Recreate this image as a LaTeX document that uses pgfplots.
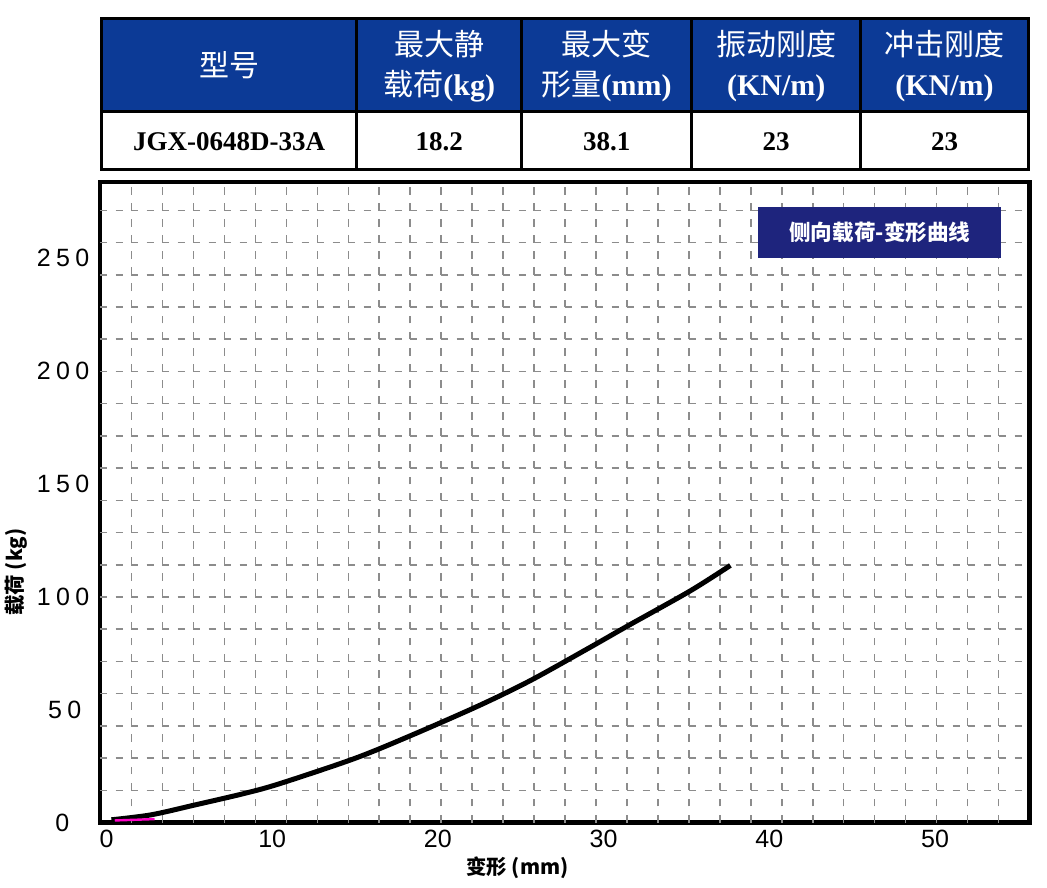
\documentclass[border=0pt]{standalone}
\usepackage{fontspec}
\setmainfont{Liberation Serif}
\newfontfamily\cjk{Noto Sans CJK SC}
\newfontfamily\arial{Liberation Sans}
\usepackage{pgfplots}
\pgfplotsset{compat=1.18}
\definecolor{hdrblue}{RGB}{12,58,150}
\definecolor{navy}{RGB}{30,36,125}
\definecolor{gridgray}{RGB}{140,140,140}
\definecolor{pinkline}{RGB}{255,0,200}
\newcommand\hdrfont{\fontsize{15}{20}\selectfont}
\newcommand\lk{\kern2.7pt}
\begin{document}
\begin{tikzpicture}
\path[use as bounding box] (0,0) rectangle (523.5pt,443.5pt);
\begin{scope}[yshift=443.5pt, x=0.5pt, y=-0.5pt]
  \fill[hdrblue] (101.7,18.3) rectangle (1028.3,111.7);
  \fill[white] (101.7,111.7) rectangle (1028.3,169.5);
  \draw[line width=1.5pt] (101.7,18.3) rectangle (1028.3,169.5);
  \draw[line width=1.5pt] (101.7,111.7) -- (1028.3,111.7);
  \foreach \X in {356.7,521.7,691.7,860.7} \draw[line width=1.5pt] (\X,18.3) -- (\X,169.5);
  \node[text=white, font=\hdrfont\cjk] at (229.2,65) {型号};
  \node[text=white, font=\hdrfont, align=center] at (439.2,66) {{\cjk 最大静}\\{\cjk 载荷}\textbf{(kg)}};
  \node[text=white, font=\hdrfont, align=center] at (606.7,66) {{\cjk 最大变}\\{\cjk 形量}\textbf{(mm)}};
  \node[text=white, font=\hdrfont, align=center] at (776.2,66) {{\cjk 振动刚度}\\\textbf{(KN/m)}};
  \node[text=white, font=\hdrfont, align=center] at (944.5,66) {{\cjk 冲击刚度}\\\textbf{(KN/m)}};
  \node[font=\bfseries\fontsize{13.5}{13.5}\selectfont] at (229.2,142) {JGX-0648D-33A};
  \node[font=\bfseries\fontsize{13.5}{13.5}\selectfont] at (439.2,142) {18.2};
  \node[font=\bfseries\fontsize{13.5}{13.5}\selectfont] at (606.7,142) {38.1};
  \node[font=\bfseries\fontsize{13.5}{13.5}\selectfont] at (776.2,142) {23};
  \node[font=\bfseries\fontsize{13.5}{13.5}\selectfont] at (944.5,142) {23};
\end{scope}
\begin{axis}[
  at={(50pt,32.25pt)}, anchor=south west,
  scale only axis, width=464.75pt, height=320.25pt,
  xmin=-0.39, xmax=55.70, ymin=0, ymax=283.5,
  axis line style={line width=2.4pt, black},
  xtick={0,10,20,30,40,50},
  xticklabels={0,10,20,30,40,50},
  ytick={0,50,100,150,200,250},
  yticklabels={0\hspace*{10pt},5\lk0\hspace*{4pt},1\lk0\lk0,1\lk5\lk0,2\lk0\lk0,2\lk5\lk0},
  major tick length=0pt,
  /pgf/number format/assume math mode=true,
  tick label style={font=\arial\fontsize{12.5}{12.5}\selectfont},
  yticklabel style={xshift=-1.8pt},
  extra x ticks={1.52,3.39,5.26,7.12,8.99,10.86,12.73,14.60,16.46,18.33,20.20,22.07,23.94,25.80,27.67,29.54,31.41,33.28,35.14,37.01,38.88,40.75,42.62,44.48,46.35,48.22,50.09,51.96,53.82},
  extra x tick labels={},
  extra x tick style={xmajorgrids=true, major tick length=0pt, major x grid style={gridgray, line width=0.75pt, dash pattern=on 3.85pt off 4.2pt}},
  extra y ticks={14.26,28.52,42.78,57.04,71.30,85.56,99.82,114.08,128.34,142.60,156.86,171.12,185.38,199.64,213.90,228.16,242.42,256.68,270.94},
  extra y tick labels={},
  extra y tick style={ymajorgrids=true, major tick length=0pt, major y grid style={gridgray, line width=0.75pt, dash pattern=on 3.7pt off 4.05pt}},
  xlabel={变形 (mm)},
  xlabel style={font=\cjk\bfseries\fontsize{10.2}{10.2}\selectfont, at={(axis description cs:0.449,-0.070)}, anchor=center},
  ylabel={载荷 (kg)},
  ylabel style={font=\cjk\bfseries\fontsize{10.2}{10.2}\selectfont, at={(axis description cs:-0.0903,0.391)}, anchor=center},
]
\addplot[black, line width=2.5pt, smooth, no marks] coordinates {
 (0.3,1.2) (2.7,3.4) (5.3,7.7) (8.4,13.0) (10.5,17.3) (15.0,28.4) (18.5,38.9) (22.5,51.8) (25.6,62.9) (29.2,77.6) (31.4,86.8) (35.2,102.4) (37.65,113.8)
};
\addplot[pinkline, line width=1.2pt, no marks] coordinates {(0.5,0.9) (2.9,1.5)};
\node[fill=navy, text=white, minimum width=121.5pt, minimum height=25.5pt, inner sep=0pt, font=\cjk\bfseries\fontsize{10.8}{10.8}\selectfont] at (rel axis cs:0.839,0.921) {侧向载荷-变形曲线};
\end{axis}
\end{tikzpicture}
\end{document}
